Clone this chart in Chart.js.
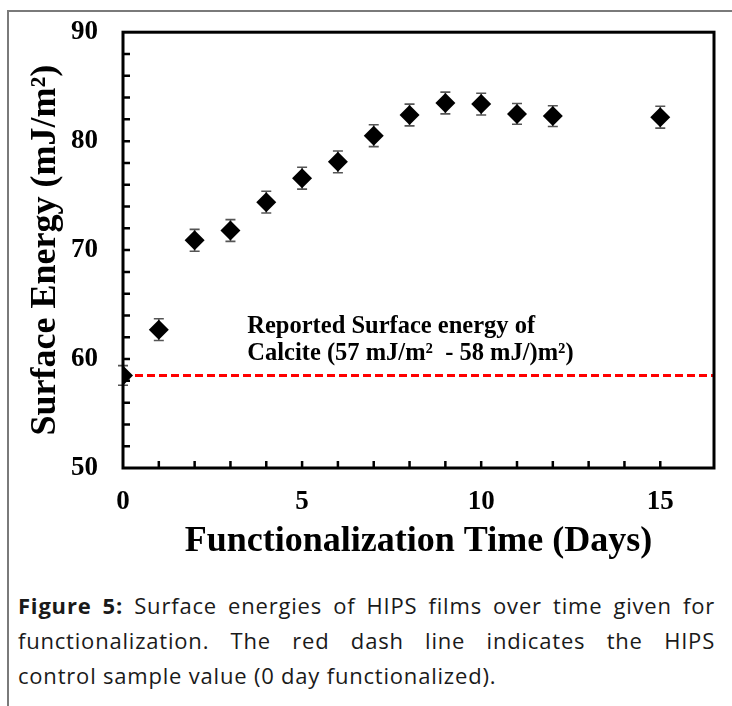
<!DOCTYPE html>
<html>
<head>
<meta charset="utf-8">
<script src="https://cdn.jsdelivr.net/npm/chart.js@4.4.1/dist/chart.umd.min.js"></script>
<style>
  html, body { margin: 0; padding: 0; background: #fff; }
  body { width: 732px; height: 706px; position: relative; overflow: hidden; }
  .frame {
    position: absolute; left: 7px; top: 10px; right: 0; bottom: 0;
    border-left: 2px solid #7a7a7a; border-top: 2px solid #7a7a7a;
  }
  #wrap { position: absolute; left: 0; top: -9px; width: 732px; height: 589px; }
  .caption {
    position: absolute; left: 18px; top: 588px; width: 697px;
    font-family: 'Open Sans', sans-serif; font-size: 22px; line-height: 35px;
    letter-spacing: 0.8px; color: #1a1a1a;
  }
  .caption div { white-space: nowrap; }
  .caption .full { text-align: justify; text-align-last: justify; white-space: normal; }
  .caption b { font-weight: 700; }
</style>
</head>
<body>
<div class="frame"></div>
<div id="wrap"><canvas id="energyChart"></canvas></div>
<div class="caption">
  <div class="full"><b>Figure 5:</b> Surface energies of HIPS films over time given for</div>
  <div class="full">functionalization. The red dash line indicates the HIPS</div>
  <div>control sample value (0 day functionalized).</div>
</div>

<script>
/* ── Data ───────────────────────────────────────────────────── */
const days    = [0, 1, 2, 3, 4, 5, 6, 7, 8, 9, 10, 11, 12, 15];
const energy  = [58.5, 62.7, 70.9, 71.8, 74.4, 76.6, 78.1, 80.5, 82.4, 83.5, 83.4, 82.5, 82.3, 82.2];
const errors  = [0.9, 1.0, 1.0, 1.0, 1.0, 1.0, 1.0, 1.0, 1.0, 1.0, 1.0, 0.95, 0.95, 1.0];
const xLabels = [0, 5, 10, 15];
const yLabels = [50, 60, 70, 80, 90];
const noteLines = ['Reported Surface energy of', 'Calcite (57 mJ/m\u00B2  - 58 mJ/)m\u00B2)'];

const controlValue = energy[0];
const serif = "'Liberation Serif', 'Times New Roman', serif";

/* ── Plot frame + inward tick marks ─────────────────────────── */
const frameTicks = {
    id: 'frameTicks',
    afterDraw(chart) {
        const { ctx, chartArea: a, scales: { x, y } } = chart;
        ctx.save();
        ctx.strokeStyle = '#000';
        ctx.lineWidth = 2.5;
        ctx.beginPath();
        x.ticks.forEach(t => {
            if (!Number.isInteger(t.value) || t.value === 0) return;
            const px = x.getPixelForValue(t.value);
            if (px >= a.right - 2) return;
            ctx.moveTo(px, a.bottom);
            ctx.lineTo(px, a.bottom - 7);
        });
        y.ticks.forEach(t => {
            const py = y.getPixelForValue(t.value);
            if (py <= a.top + 2 || py >= a.bottom - 2) return;
            ctx.moveTo(a.left, py);
            ctx.lineTo(a.left + 7, py);
        });
        ctx.stroke();
        ctx.lineWidth = 3;
        ctx.strokeRect(a.left, a.top, a.right - a.left, a.bottom - a.top);
        ctx.restore();
    },
};

/* ── Error bars behind the diamonds ─────────────────────────── */
const errorBars = {
    id: 'errorBars',
    beforeDatasetsDraw(chart) {
        const { ctx, scales: { x, y } } = chart;
        ctx.save();
        ctx.strokeStyle = '#555';
        ctx.lineWidth = 1.6;
        ctx.beginPath();
        days.forEach((d, i) => {
            const px = x.getPixelForValue(d);
            const top = y.getPixelForValue(energy[i] + errors[i]);
            const bot = y.getPixelForValue(energy[i] - errors[i]);
            ctx.moveTo(px, top); ctx.lineTo(px, bot);
            ctx.moveTo(px - 5, top); ctx.lineTo(px + 5, top);
            ctx.moveTo(px - 5, bot); ctx.lineTo(px + 5, bot);
        });
        ctx.stroke();
        ctx.restore();
    },
};

/* ── Text note above the control line ───────────────────────── */
const controlNote = {
    id: 'controlNote',
    afterDatasetsDraw(chart) {
        const { ctx, scales: { x, y } } = chart;
        ctx.save();
        ctx.fillStyle = '#000';
        ctx.font = `bold 24.5px ${serif}`;
        ctx.textBaseline = 'alphabetic';
        const left = x.getPixelForValue(3.47);
        ctx.fillText(noteLines[0], left, y.getPixelForValue(62.4));
        ctx.fillText(noteLines[1], left, y.getPixelForValue(59.9));
        ctx.restore();
    },
};

new Chart(document.getElementById('energyChart'), {
    data: {
        datasets: [
            {
                type: 'scatter',
                label: 'Surface energy',
                data: days.map((d, i) => ({ x: d, y: energy[i] })),
                pointStyle: 'rectRot',
                pointRadius: 10,
                pointHoverRadius: 10,
                backgroundColor: '#000',
                borderColor: '#000',
                borderWidth: 0,
            },
            {
                type: 'line',
                label: 'Control',
                data: [{ x: 0, y: controlValue }, { x: 16.5, y: controlValue }],
                borderColor: '#ff0000',
                borderWidth: 3,
                borderDash: [8, 4],
                pointRadius: 0,
                fill: false,
            },
        ],
    },
    options: {
        responsive: true,
        maintainAspectRatio: false,
        animation: false,
        layout: { padding: { left: 0, top: 22, right: 15, bottom: 0 } },
        plugins: {
            legend: { display: false },
            tooltip: { enabled: false },
        },
        scales: {
            x: {
                type: 'linear',
                min: 0,
                max: 16.5,
                grid: { display: false, drawTicks: false },
                border: { display: false },
                ticks: {
                    stepSize: 1,
                    padding: 18,
                    color: '#000',
                    font: { family: serif, size: 27, weight: 'bold' },
                    maxRotation: 0,
                    autoSkip: false,
                    callback: v => (xLabels.includes(v) ? v : ''),
                },
                title: {
                    display: true,
                    text: 'Functionalization Time (Days)',
                    color: '#000',
                    font: { family: serif, size: 36, weight: 'bold' },
                    padding: { top: 0, bottom: 17 },
                },
                afterFit: s => { s.height = 112; },
            },
            y: {
                min: 50,
                max: 90,
                grid: { display: false, drawTicks: false },
                border: { display: false },
                ticks: {
                    stepSize: 2,
                    padding: 25,
                    color: '#000',
                    font: { family: serif, size: 27, weight: 'bold' },
                    autoSkip: false,
                    callback: v => (yLabels.includes(v) ? v : ''),
                },
                title: {
                    display: true,
                    text: 'Surface Energy (mJ/m\u00B2)',
                    color: '#000',
                    font: { family: serif, size: 36, weight: 'bold' },
                    padding: { top: 24, bottom: 0 },
                },
                afterFit: s => { s.width = 123; },
            },
        },
    },
    plugins: [errorBars, controlNote, frameTicks],
});
</script>
</body>
</html>
